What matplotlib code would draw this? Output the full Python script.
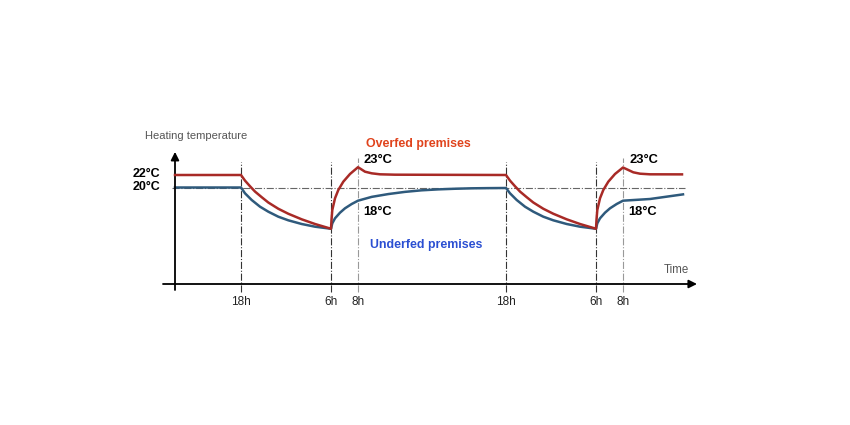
"""
Schematic of heating temperature over time for overfed vs underfed premises
(night setback from 18h to 6h, morning boost until 8h).
"""

import matplotlib.pyplot as plt

plt.rcParams["font.family"] = ["Liberation Sans", "DejaVu Sans"]

RED = "#a82a26"
BLUE = "#2f5a7c"
RED_TXT = "#e0431c"
BLUE_TXT = "#2b4fd2"

# schematic time positions of the markers (not to scale)
TICK_POS = [66, 156, 183, 331, 421, 448]
TICK_LABELS = ["18h", "6h", "8h", "18h", "6h", "8h"]
MAIN_TICKS = [66, 156, 331, 421]   # dash-dot black
BOOST_TICKS = [183, 448]           # lighter grey

# overfed premises (red curve), temperature in deg C
red_t = [0, 66, 70, 75, 80, 86.7, 93.3, 103.3, 113.3, 126.7, 140, 156,
         156.5, 157.3, 160, 163.3, 168.3, 175, 183,
         190, 196.7, 205, 220, 331,
         335, 340, 345, 351.7, 358.3, 368.3, 378.3, 391.7, 405, 421,
         421.5, 422.3, 425, 428.3, 433.3, 440, 448,
         458.3, 465, 475, 507]
red_T = [22.0, 22.0, 21.1, 20.2, 19.35, 18.45, 17.6, 16.6, 15.8, 14.91, 14.16, 13.4,
         14.8, 16.4, 18.27, 19.6, 20.93, 22.16, 23.25,
         22.53, 22.27, 22.11, 22.05, 22.0,
         21.1, 20.2, 19.35, 18.45, 17.6, 16.6, 15.8, 14.91, 14.16, 13.4,
         14.8, 16.4, 18.27, 19.6, 20.93, 22.16, 23.2,
         22.43, 22.21, 22.11, 22.1]

# underfed premises (blue curve)
blue_t = [0, 66, 70, 76.7, 85, 93.3, 103.3, 113.3, 126.7, 140, 156,
          157.3, 160, 165, 170, 176.7, 183,
          196.7, 213.3, 230, 246.7, 263.3, 280, 296.7, 313.3, 331,
          335, 341.7, 350, 358.3, 368.3, 378.3, 391.7, 405, 421,
          422.3, 425, 430, 435, 441.7, 448,
          475, 508]
blue_T = [20.0, 20.0, 19.07, 18.0, 16.93, 16.13, 15.33, 14.75, 14.16, 13.73, 13.4,
          14.27, 15.07, 15.97, 16.67, 17.36, 17.89,
          18.5, 18.95, 19.3, 19.55, 19.7, 19.8, 19.87, 19.9, 19.92,
          19.07, 18.0, 16.93, 16.13, 15.33, 14.75, 14.16, 13.73, 13.4,
          14.27, 15.07, 15.97, 16.67, 17.36, 17.89,
          18.16, 18.9]


def main():
    fig = plt.figure(figsize=(8.5, 4.25), dpi=100)
    ax = fig.add_axes([0, 0, 1, 1])
    ax.set_xlim(-175, 675)
    ax.set_ylim(-18, 50)
    ax.axis("off")

    # reference lines
    for x in MAIN_TICKS:
        ax.plot([x, x], [3.3, 24.1], color="#333333", lw=0.8, ls="-.", zorder=1)
    for x in BOOST_TICKS:
        ax.plot([x, x], [3.3, 24.7], color="#999999", lw=0.8, ls="-.", zorder=1)
    ax.plot([-3, 510], [20.0, 20.0], color="#666666", lw=0.8, ls="-.", zorder=1)

    # axes with arrows
    ax.annotate("", xy=(522, 4.56), xytext=(-12, 4.56),
                arrowprops=dict(arrowstyle="-|>", color="black", lw=1.3,
                                mutation_scale=12, shrinkA=0, shrinkB=0))
    ax.annotate("", xy=(0, 25.7), xytext=(0, 3.6),
                arrowprops=dict(arrowstyle="-|>", color="black", lw=1.3,
                                mutation_scale=12, shrinkA=0, shrinkB=0))

    ax.plot(red_t, red_T, color=RED, lw=1.8, zorder=3)
    ax.plot(blue_t, blue_T, color=BLUE, lw=1.8, zorder=2)

    for x, lab in zip(TICK_POS, TICK_LABELS):
        ax.text(x, 1.7, lab, ha="center", va="center", fontsize=8.5, color="#222222")

    ax.text(-30, 28.2, "Heating temperature", ha="left", va="center",
            fontsize=8, color="#555555")
    ax.text(489, 6.8, "Time", ha="left", va="center", fontsize=8.3, color="#555555")
    ax.text(-15, 22.2, "22°C", ha="right", va="center", fontsize=9, fontweight="bold")
    ax.text(-15, 20.1, "20°C", ha="right", va="center", fontsize=9, fontweight="bold")

    ax.text(191, 26.96, "Overfed premises", ha="left", va="center",
            fontsize=8.9, fontweight="bold", color=RED_TXT)
    ax.text(195, 10.8, "Underfed premises", ha="left", va="center",
            fontsize=8.9, fontweight="bold", color=BLUE_TXT)
    for x in BOOST_TICKS:
        ax.text(x + 6, 24.4, "23°C", ha="left", va="center", fontsize=9.3, fontweight="bold")
        ax.text(x + 5, 16.1, "18°C", ha="left", va="center", fontsize=9.3, fontweight="bold")

    fig.savefig("out.png", dpi=100)


if __name__ == "__main__":
    main()
